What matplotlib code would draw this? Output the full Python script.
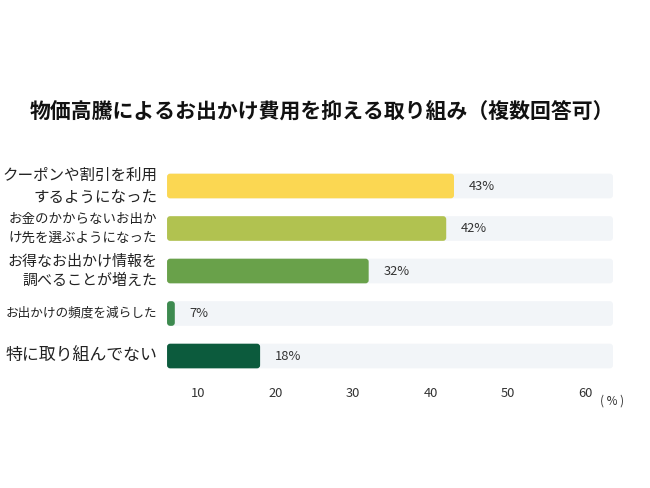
import matplotlib
matplotlib.use('Agg')
import matplotlib.pyplot as plt
from matplotlib.patches import FancyBboxPatch

plt.rcParams['font.family'] = ['Noto Sans CJK JP', 'DejaVu Sans']

# データ
categories = ['クーポンや割引を利用\nするようになった',
              'お金のかからないお出か\nけ先を選ぶようになった',
              'お得なお出かけ情報を\n調べることが増えた',
              'お出かけの頻度を減らした',
              '特に取り組んでない']
values = [43, 42, 32, 7, 18]
value_labels = ['43%', '42%', '32%', '7%', '18%']
ticks = [10, 20, 30, 40, 50, 60]

COLORS = ['#fbd752', '#b1c250', '#69a14a', '#3d8a4f', '#0c5b3d']
TRACK = '#f2f5f8'
LABEL_SIZES = [11.2, 9.7, 10.8, 9.1, 12.2]
X_MIN, X_MAX = 6.0, 63.5

fig = plt.figure(figsize=(6.5, 4.88), dpi=100)
ax = fig.add_axes([0.257, 0.2269, 0.686, 0.6624 - 0.2269])

h = 0.58
r = 0.4
asp = 0.18
for i, v in enumerate(values):
    track = FancyBboxPatch((X_MIN, i - h / 2), X_MAX - X_MIN, h,
                           boxstyle=f'round,pad=0,rounding_size={r}',
                           mutation_aspect=asp, fc=TRACK, ec='none', zorder=1)
    ax.add_patch(track)
    bar = FancyBboxPatch((X_MIN, i - h / 2), v - X_MIN, h,
                         boxstyle=f'round,pad=0,rounding_size={r}',
                         mutation_aspect=asp, fc=COLORS[i], ec='none', zorder=2)
    ax.add_patch(bar)
    ax.text(v + 1.9, i, value_labels[i], va='center', ha='left',
            fontsize=9.3, color='#333333', zorder=3)
    ax.annotate(categories[i], xy=(0, i), xycoords=('axes fraction', 'data'),
                xytext=(-10, 0), textcoords='offset pixels',
                va='center', ha='right', fontsize=LABEL_SIZES[i],
                color='#222222', linespacing=1.4)

ax.set_xlim(X_MIN, X_MAX)
ax.set_ylim(4.5, -0.5)
ax.set_xticks(ticks)
ax.set_xticklabels([str(t) for t in ticks], fontsize=9.3, color='#333333')
ax.tick_params(axis='x', length=0, pad=7)
ax.set_yticks([])
for s in ax.spines.values():
    s.set_visible(False)

fig.text(0.942, 0.178, '( % )', fontsize=8.5, color='#333333', ha='center', va='center')

fig.text(0.495, 0.772, '物価高騰によるお出かけ費用を抑える取り組み（複数回答可）',
         fontsize=15, fontweight='bold', ha='center', va='center', color='#111111')

fig.savefig('out.png', dpi=100, facecolor='white')
